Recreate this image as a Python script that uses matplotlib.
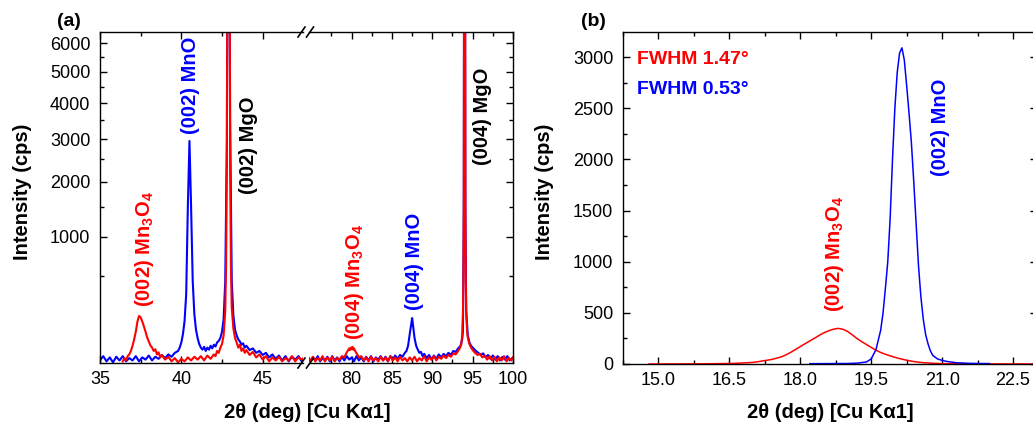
import numpy as np
import matplotlib
matplotlib.use("Agg")
import matplotlib.pyplot as plt
from matplotlib.lines import Line2D
from matplotlib.ticker import FixedLocator, MultipleLocator, FormatStrFormatter

plt.rcParams['font.family'] = ['Liberation Sans', 'DejaVu Sans']
plt.rcParams['mathtext.fontset'] = 'custom'
plt.rcParams['mathtext.rm'] = 'Liberation Sans'
plt.rcParams['mathtext.bf'] = 'Liberation Sans:bold'

# ---- panel (a): 2theta-omega scan, left segment 35-47.5 deg ----
blue_left_x = [35.0, 35.2, 35.4, 35.6, 35.8, 36.0, 36.2, 36.4, 36.6, 36.8,
               37.0, 37.2, 37.4, 37.6, 37.8, 38.0, 38.2, 38.4, 38.6, 38.8,
               39.0, 39.2, 39.4, 39.6, 39.8, 39.9, 40.0, 40.1, 40.2, 40.3,
               40.4, 40.5, 40.6, 40.7, 40.8, 40.9, 41.0, 41.1, 41.2, 41.3,
               41.4, 41.5, 41.6, 41.7, 41.8, 41.9, 42.0, 42.1, 42.2, 42.3,
               42.4, 42.5, 42.6, 42.7, 42.8, 42.9, 43.0, 43.1, 43.2, 43.3,
               43.4, 43.5, 43.6, 43.7, 43.8, 43.9, 44.0, 44.2, 44.4, 44.6,
               44.8, 45.0, 45.2, 45.4, 45.6, 45.8, 46.0, 46.2, 46.4, 46.6,
               46.8, 47.0, 47.2, 47.4, 47.6]
blue_left_y = [6, 12, 5, 10, 4, 11, 6, 12, 5, 9,
               6, 12, 5, 10, 7, 13, 6, 11, 8, 14,
               9, 15, 11, 18, 22, 30, 45, 75, 140, 330,
               1500, 2950, 1500, 450, 180, 95, 60, 40, 30, 25,
               32, 22, 30, 25, 35, 28, 38, 33, 45, 50,
               60, 85, 150, 450, 3000, 30000, 3500, 450, 170, 95,
               70, 55, 48, 38, 42, 30, 35, 24, 28, 18,
               22, 14, 18, 10, 15, 8, 13, 6, 12, 5,
               11, 7, 12, 5, 10]

red_left_x = [36.4, 36.5, 36.6, 36.7, 36.8, 36.9, 37.0, 37.1, 37.2, 37.3,
              37.4, 37.5, 37.6, 37.7, 37.8, 37.9, 38.0, 38.1, 38.2, 38.3,
              38.4, 38.5, 38.6, 38.7, 38.8, 39.0, 39.2, 39.4, 39.6, 39.8,
              40.0, 40.2, 40.4, 40.6, 40.8, 41.0, 41.2, 41.4, 41.6, 41.8,
              42.0, 42.1, 42.2, 42.3, 42.4, 42.5, 42.6, 42.7, 42.75, 42.8,
              42.85, 42.9, 42.95, 43.0, 43.05, 43.1, 43.2, 43.3, 43.4, 43.5,
              43.6, 43.7, 43.8, 43.9, 44.0, 44.2, 44.4, 44.6, 44.8, 45.0,
              45.2, 45.4, 45.6, 45.8, 46.0, 46.2, 46.4, 46.6, 46.8, 47.0,
              47.2, 47.4, 47.6]
red_left_y = [5, 9, 6, 12, 15, 22, 35, 55, 85, 135,
              168, 160, 135, 110, 85, 62, 48, 36, 30, 22,
              26, 15, 19, 10, 14, 7, 11, 5, 9, 4,
              8, 5, 10, 6, 11, 7, 12, 6, 13, 8,
              15, 12, 22, 18, 30, 40, 70, 200, 600, 2500,
              20000, 100000, 20000, 2500, 600, 220, 100, 60, 45, 30,
              38, 22, 28, 18, 24, 14, 20, 10, 15, 7,
              12, 5, 10, 6, 11, 5, 9, 6, 12, 5,
              10, 7, 11]

# ---- panel (a): right segment 75-100 deg ----
blue_right_x = [74.3, 74.6, 74.9, 75.2, 75.5, 75.8, 76.1, 76.4, 76.7, 77.0,
                77.3, 77.6, 77.9, 78.2, 78.5, 78.8, 79.1, 79.4, 79.7, 80.0,
                80.3, 80.6, 80.9, 81.2, 81.5, 81.8, 82.1, 82.4, 82.7, 83.0,
                83.3, 83.6, 83.9, 84.2, 84.5, 84.8, 85.1, 85.4, 85.7, 86.0,
                86.3, 86.6, 86.8, 87.0, 87.2, 87.4, 87.5, 87.6, 87.8, 88.0,
                88.2, 88.4, 88.6, 88.8, 89.0, 89.3, 89.6, 89.9, 90.2, 90.5,
                90.8, 91.1, 91.4, 91.7, 92.0, 92.3, 92.6, 92.9, 93.2, 93.5,
                93.7, 93.8, 93.9, 94.0, 94.1, 94.2, 94.4, 94.6, 94.8, 95.1,
                95.4, 95.7, 96.0, 96.3, 96.6, 96.9, 97.2, 97.5, 97.8, 98.1,
                98.4, 98.7, 99.0, 99.3, 99.6, 100.0]
blue_right_y = [6, 11, 5, 10, 6, 12, 5, 9, 6, 11,
                5, 12, 6, 10, 5, 11, 6, 12, 7, 10,
                5, 12, 6, 10, 5, 11, 6, 12, 5, 10,
                7, 12, 6, 11, 5, 12, 7, 13, 8, 14,
                11, 18, 22, 35, 75, 125, 155, 120, 60, 35,
                25, 18, 20, 12, 16, 9, 14, 7, 13, 8,
                15, 10, 16, 12, 18, 14, 22, 20, 28, 35,
                55, 90, 1500, 40000, 1500, 200, 70, 45, 35, 28,
                22, 18, 14, 17, 10, 14, 8, 13, 7, 12,
                6, 11, 7, 12, 6, 10]

red_right_x = [74.3, 74.6, 74.9, 75.2, 75.5, 75.8, 76.1, 76.4, 76.7, 77.0,
               77.3, 77.6, 77.9, 78.2, 78.5, 78.8, 79.1, 79.3, 79.5, 79.7,
               79.8, 79.9, 80.0, 80.1, 80.2, 80.3, 80.5, 80.7, 80.9, 81.2,
               81.5, 81.8, 82.1, 82.4, 82.7, 83.0, 83.3, 83.6, 83.9, 84.2,
               84.5, 84.8, 85.1, 85.4, 85.7, 86.0, 86.3, 86.6, 86.9, 87.2,
               87.5, 87.8, 88.1, 88.4, 88.7, 89.0, 89.3, 89.6, 89.9, 90.2,
               90.5, 90.8, 91.1, 91.4, 91.7, 92.0, 92.3, 92.6, 92.9, 93.2,
               93.4, 93.6, 93.7, 93.8, 93.85, 93.9, 93.95, 94.0, 94.05, 94.1,
               94.15, 94.2, 94.3, 94.4, 94.6, 94.8, 95.0, 95.3, 95.6, 95.9,
               96.2, 96.5, 96.8, 97.1, 97.4, 97.7, 98.0, 98.3, 98.6, 98.9,
               99.2, 99.5, 99.8, 100.0]
red_right_y = [5, 10, 6, 11, 5, 9, 6, 12, 5, 10,
               6, 11, 5, 9, 7, 12, 10, 16, 22, 28,
               24, 30, 26, 32, 25, 28, 20, 15, 10, 12,
               6, 10, 5, 11, 6, 9, 5, 11, 6, 10,
               5, 12, 6, 10, 5, 11, 6, 9, 5, 10,
               6, 11, 5, 9, 6, 12, 5, 10, 7, 12,
               6, 11, 8, 13, 9, 14, 11, 17, 15, 22,
               28, 40, 70, 200, 450, 1500, 15000, 100000, 15000, 1500,
               450, 200, 90, 60, 40, 30, 24, 18, 14, 16,
               10, 13, 7, 12, 6, 11, 5, 10, 6, 12,
               5, 9, 6, 10]

# ---- panel (b): (002) peaks ----
red_b_x = [14.8, 15.5, 16.0, 16.5, 16.8, 17.0, 17.1, 17.2, 17.3, 17.4,
           17.5, 17.6, 17.7, 17.8, 17.9, 18.0, 18.1, 18.2, 18.3, 18.4,
           18.5, 18.6, 18.7, 18.8, 18.9, 19.0, 19.1, 19.2, 19.3, 19.4,
           19.5, 19.6, 19.7, 19.8, 19.9, 20.0, 20.1, 20.2, 20.3, 20.4,
           20.5, 20.6, 20.7, 20.8, 21.0, 21.5, 22.0, 23.0]
red_b_y = [0, 1, 2, 5, 10, 16, 22, 30, 37, 45,
           57, 70, 90, 115, 142, 170, 198, 225, 252, 280,
           305, 325, 340, 348, 340, 318, 285, 248, 218, 190,
           162, 135, 113, 95, 80, 66, 53, 42, 32, 24,
           18, 13, 10, 7, 4, 2, 1, 0]

blue_b_x = [18.2, 18.6, 19.0, 19.2, 19.4, 19.5, 19.6, 19.7, 19.75, 19.8,
            19.85, 19.9, 19.95, 20.0, 20.05, 20.1, 20.15, 20.2, 20.25, 20.3,
            20.35, 20.4, 20.45, 20.5, 20.55, 20.6, 20.65, 20.7, 20.75, 20.8,
            20.9, 21.0, 21.1, 21.3, 21.6, 22.0]
blue_b_y = [3, 4, 5, 8, 20, 50, 140, 330, 500, 740,
            1000, 1420, 2000, 2500, 2850, 3040, 3090, 2970, 2720, 2450,
            2160, 1780, 1370, 960, 660, 440, 290, 200, 130, 85,
            50, 35, 25, 12, 6, 4]

a_major = [1000, 2000, 3000, 4000, 5000, 6000]
a_minor = [500, 1500, 2500, 3500, 4500, 5500]

RED = '#ff0000'
BLUE = '#0000ff'

W, H = 1033, 429
fig = plt.figure(figsize=(W / 100, H / 100), dpi=100)


def box(x0, x1, y0, y1):
    # pixel box (y measured from the top) -> figure fraction rect
    return [x0 / W, 1 - y1 / H, (x1 - x0) / W, (y1 - y0) / H]


def ftext(x, y, s, **kw):
    fig.text(x / W, 1 - y / H, s, ha='center', va='center', **kw)


ax_l = fig.add_axes(box(100, 303, 32, 363))
ax_r = fig.add_axes(box(309, 513, 32, 363))
ax_b = fig.add_axes(box(623, 1036.7, 32, 364))

fwd = lambda v: np.sqrt(np.clip(v, 0, None))
inv = lambda v: np.square(v)

ax_l.plot(blue_left_x, blue_left_y, color=BLUE, lw=1.5)
ax_l.plot(red_left_x, red_left_y, color=RED, lw=1.5)
ax_r.plot(blue_right_x, blue_right_y, color=BLUE, lw=1.5)
ax_r.plot(red_right_x, red_right_y, color=RED, lw=1.5)

for ax in (ax_l, ax_r):
    ax.set_yscale('function', functions=(fwd, inv))
    ax.set_ylim(3.4, 6410)
    ax.yaxis.set_major_locator(FixedLocator(a_major))
    ax.yaxis.set_minor_locator(FixedLocator(a_minor))
    ax.tick_params(which='both', direction='in', top=True, width=1,
                   labelsize=13)
    ax.tick_params(which='major', length=5)
    ax.tick_params(which='minor', length=3)
    ax.tick_params(axis='x', pad=6)
    ax.tick_params(axis='y', pad=7)
    for sp in ax.spines.values():
        sp.set_linewidth(1.0)

ax_l.set_xlim(35, 47.48)
ax_l.xaxis.set_major_locator(FixedLocator([35, 40, 45]))
ax_l.xaxis.set_minor_locator(FixedLocator([37.5, 42.5]))
ax_l.yaxis.set_major_formatter(FormatStrFormatter('%d'))
ax_l.tick_params(axis='y', which='both', right=False)
ax_l.spines['right'].set_visible(False)

ax_r.set_xlim(74.72, 100)
ax_r.xaxis.set_major_locator(FixedLocator([80, 85, 90, 95, 100]))
ax_r.xaxis.set_minor_locator(FixedLocator([77.5, 82.5, 87.5, 92.5, 97.5]))
ax_r.tick_params(axis='y', which='both', left=False, right=True,
                 labelleft=False)
ax_r.spines['left'].set_visible(False)

# axis break marks
for cx in (301.5, 310):
    for cy in (32, 363):
        fig.add_artist(Line2D([(cx - 3.5) / W, (cx + 3.5) / W],
                              [1 - (cy + 5) / H, 1 - (cy - 5) / H],
                              color='k', lw=1.2))

# panel (b)
ax_b.plot(red_b_x, red_b_y, color=RED, lw=1.1)
ax_b.plot(blue_b_x, blue_b_y, color=BLUE, lw=1.1)
ax_b.set_xlim(14.25, 23.0)
ax_b.set_ylim(0, 3245)
ax_b.xaxis.set_major_locator(MultipleLocator(1.5))
ax_b.xaxis.set_minor_locator(MultipleLocator(0.75))
ax_b.xaxis.set_major_formatter(FormatStrFormatter('%.1f'))
ax_b.yaxis.set_major_locator(MultipleLocator(500))
ax_b.yaxis.set_minor_locator(MultipleLocator(250))
ax_b.tick_params(which='both', direction='in', top=True, right=True, width=1,
                 labelsize=13)
ax_b.tick_params(which='major', length=5)
ax_b.tick_params(which='minor', length=3)
ax_b.tick_params(axis='x', pad=6)
ax_b.tick_params(axis='y', pad=7)
for sp in ax_b.spines.values():
    sp.set_linewidth(1.0)

# labels
lab = dict(fontsize=14.5, fontweight='bold')
ftext(307, 412, '2θ (deg) [Cu Kα1]', **lab)
ftext(830, 412, '2θ (deg) [Cu Kα1]', **lab)
ftext(23, 192, 'Intensity (cps)', rotation=90, **lab)
ftext(545, 192, 'Intensity (cps)', rotation=90, **lab)
ftext(69, 22, '(a)', fontsize=14, fontweight='bold')
ftext(593, 22, '(b)', fontsize=14, fontweight='bold')

ann = dict(fontsize=14.5, fontweight='bold', rotation=90)
mn3o4 = r'(002) Mn$_\mathbf{3}$O$_\mathbf{4}$'
ftext(145, 249, mn3o4, color=RED, **ann)
ftext(190, 85, '(002) MnO', color=BLUE, **ann)
ftext(248, 145, '(002) MgO', color='black', **ann)
ftext(355, 282, r'(004) Mn$_\mathbf{3}$O$_\mathbf{4}$', color=RED, **ann)
ftext(415, 261, '(004) MnO', color=BLUE, **ann)
ftext(483, 116, '(004) MgO', color='black', **ann)
ftext(835, 254, mn3o4, color=RED, **ann)
ftext(941, 127, '(002) MnO', color=BLUE, **ann)

fig.text(637 / W, 1 - 60 / H, 'FWHM 1.47°', color=RED, fontsize=14,
         fontweight='bold', ha='left', va='center')
fig.text(637 / W, 1 - 90 / H, 'FWHM 0.53°', color=BLUE, fontsize=14,
         fontweight='bold', ha='left', va='center')

fig.savefig('out.png', dpi=100)
